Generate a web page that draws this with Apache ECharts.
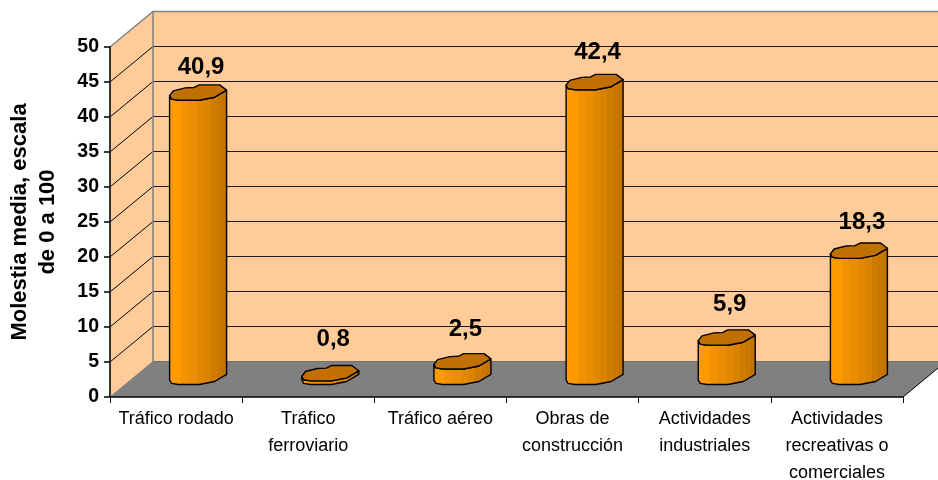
<!DOCTYPE html>
<html><head><meta charset="utf-8">
<style>html,body{margin:0;padding:0;background:#fff}#c{width:938px;height:480px}</style>
<script src="https://cdn.jsdelivr.net/npm/echarts@6/dist/echarts.min.js"></script>
</head><body><div id="c"></div>
<script>
const categories = ['Tráfico rodado','Tráfico\nferroviario','Tráfico aéreo','Obras de\nconstrucción','Actividades\nindustriales','Actividades\nrecreativas o\ncomerciales'];
const values = [40.9,0.8,2.5,42.4,5.9,18.3];
const valueLabels = ['40,9','0,8','2,5','42,4','5,9','18,3'];
const yTicks = [0,5,10,15,20,25,30,35,40,45,50];
const labelLift = [25,34,32,30,33,29];

const DX = 43, DY = -35.5, MX = 22, MY = -18, RX = 28.5, RY = 7.5, BASE_LIFT = 2;
const FONT = '"Liberation Sans", Arial, sans-serif';
const topShape = [[-1,.4],[-.87,-.25],[-.45,-.65],[-.14,-.7],[.04,-1.05],[.76,-1.05],[1,-.35],[.58,.6],[.04,1],[-.69,1],[-.93,.85]];
const frontEdge = [[1,-.35],[.58,.6],[.04,1],[-.69,1],[-.93,.85],[-1,.4]];
const bandEdges = [0,.21,.33,.48,.6,.72,.83,.91,1];
const bandColors = ['#FF9900','#F39200','#EA8D00','#E28800','#D98300','#CE7C00','#C87800','#BF7300'];
const stops = [];
bandColors.forEach((c,i)=>{stops.push({offset:bandEdges[i],color:c});stops.push({offset:bandEdges[i+1],color:c});});

function renderWalls(params, api){
  const band = api.size([1,0])[0];
  const x0 = api.coord([0,0])[0] - band/2;
  const x1 = api.coord([categories.length-1,0])[0] + band/2;
  const y0 = api.coord([0,0])[1];
  const yTop = api.coord([0,50])[1];
  const pts = (arr,style)=>({type:'polygon',shape:{points:arr},style});
  const ch = [
    pts([[x0+DX,yTop+DY],[x1+DX,yTop+DY],[x1+DX,y0+DY],[x0+DX,y0+DY]],{fill:'#FFCC99'}),
    pts([[x0,yTop],[x0+DX,yTop+DY],[x0+DX,y0+DY],[x0,y0]],{fill:'#FFCC99'}),
    pts([[x0,y0],[x1,y0],[x1+DX,y0+DY],[x0+DX,y0+DY]],{fill:'#808080'})
  ];
  yTicks.forEach(t=>{
    if(t===0) return;
    const y = api.coord([0,t])[1];
    if(t<50) ch.push({type:'line',shape:{x1:x0,y1:y,x2:x0+DX,y2:y+DY},style:{stroke:'#000',lineWidth:1}});
    if(t<50) ch.push({type:'line',shape:{x1:x0+DX,y1:y+DY,x2:x1+DX,y2:y+DY},style:{stroke:'#1a1a1a',lineWidth:1}});
  });
  ch.push({type:'polyline',shape:{points:[[x0,yTop],[x0+DX,yTop+DY],[x1+DX,yTop+DY]]},style:{stroke:'#808080',lineWidth:1.5,fill:null}});
  ch.push({type:'line',shape:{x1:x0+DX,y1:yTop+DY,x2:x0+DX,y2:y0+DY},style:{stroke:'#808080',lineWidth:1.5}});
  ch.push({type:'line',shape:{x1:x0,y1:y0,x2:x0+DX,y2:y0+DY},style:{stroke:'#808080',lineWidth:1}});
  ch.push({type:'line',shape:{x1:x0+DX,y1:y0+DY,x2:x1+DX,y2:y0+DY},style:{stroke:'#707070',lineWidth:1}});
  ch.push({type:'line',shape:{x1:x1,y1:y0,x2:x1+DX,y2:y0+DY},style:{stroke:'#000',lineWidth:1}});
  return {type:'group',children:ch};
}

function renderBar(params, api){
  const i = api.value(0), v = api.value(1);
  const top = api.coord([i,v]), base = api.coord([i,0]);
  const cx = top[0]+MX, ty = top[1]+MY, by = base[1]+MY-BASE_LIFT;
  const tp = topShape.map(p=>[cx+p[0]*RX, ty+p[1]*RY]);
  const body = [[cx-RX,ty+.4*RY]].concat(
    [[cx-RX,by+.4*RY]],
    frontEdge.slice().reverse().map(p=>[cx+p[0]*RX,by+p[1]*RY]),
    [[cx+RX,ty-.35*RY]],
    frontEdge.map(p=>[cx+p[0]*RX,ty+p[1]*RY])
  );
  const border = {stroke:'#000',lineWidth:1.4,lineJoin:'round'};
  return {type:'group',children:[
    {type:'polygon',shape:{points:body},style:Object.assign({fill:new echarts.graphic.LinearGradient(0,0,1,0,stops)},border)},
    {type:'polygon',shape:{points:tp},style:Object.assign({fill:'#C07000'},border)},
    {type:'text',style:{text:valueLabels[i],x:cx+3,y:ty-labelLift[i],align:'center',verticalAlign:'middle',font:'bold 24px '+FONT,fill:'#000'}}
  ]};
}

const chart = echarts.init(document.getElementById('c'),null,{renderer:'canvas'});
chart.setOption({
  animation:false,
  backgroundColor:'#fff',
  grid:{left:110,top:47,width:793,height:350,containLabel:false,outerBoundsMode:'none'},
  xAxis:{type:'category',data:categories,z:5,
    axisLine:{show:true,lineStyle:{color:'#000',width:1.5}},
    axisTick:{show:true,alignWithLabel:false,length:6,lineStyle:{color:'#000',width:1}},
    axisLabel:{color:'#000',fontFamily:FONT,fontSize:18,lineHeight:27,margin:9,interval:0}},
  yAxis:{type:'value',min:0,max:50,interval:5,z:5,
    name:'Molestia media, escala\nde 0 a 100',nameLocation:'middle',nameRotate:90,nameGap:48,
    nameTextStyle:{color:'#000',fontFamily:FONT,fontWeight:'bold',fontSize:22,lineHeight:28},
    axisLine:{show:true,lineStyle:{color:'#333',width:2}},
    axisTick:{show:true,length:6,lineStyle:{color:'#000',width:1.5}},
    splitLine:{show:false},
    axisLabel:{color:'#000',fontFamily:FONT,fontWeight:'bold',fontSize:19.5,margin:11,padding:[2,0,0,0]}},
  series:[
    {type:'custom',z:1,silent:true,clip:false,renderItem:renderWalls,data:[[0,0]]},
    {type:'custom',z:3,silent:true,clip:false,renderItem:renderBar,data:values.map((v,i)=>[i,v])}
  ]
});
</script></body></html>
